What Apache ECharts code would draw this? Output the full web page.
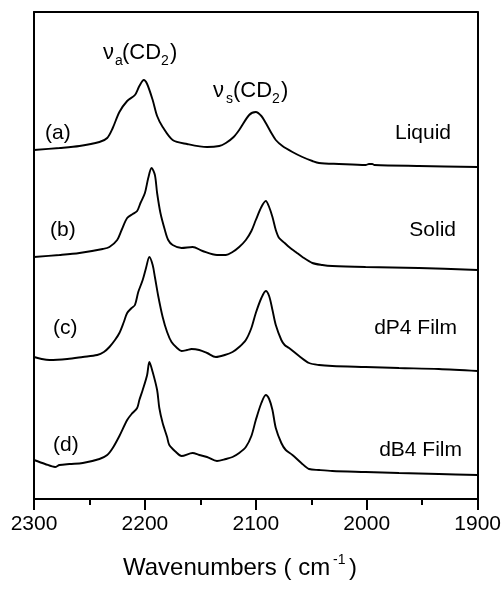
<!DOCTYPE html>
<html>
<head>
<meta charset="utf-8">
<script src="https://cdn.jsdelivr.net/npm/echarts@6/dist/echarts.min.js"></script>
<style>
html,body{margin:0;padding:0;background:#fff;}
#chart{width:504px;height:591px;}
</style>
</head>
<body>
<div id="chart"></div>
<script>
// Axis ticks (wavenumbers, cm-1)
const xTicks = [2300, 2200, 2100, 2000, 1900];

// (a) Liquid
const aWn  = [2300,2277,2259,2241,2234,2229,2223,2216,2209,2205,2201,2198,2193,2189,2184,2175,2162,2144,2133,2127,2120,2115,2106,2100,2095,2091,2086,2082,2076,2067,2058,2049,2043,2025,2001,1998,1995,1993,1953,1900];
const aAbs = [349,351,353,357,361,371,387,398,404,413,419,415,399,383,372,359,355,352,353,356,362,369,384,387,383,376,366,359,353,347,342,338,336,335,334,335,335,334,333,332];

// (b) Solid
const bWn  = [2300,2277,2259,2238,2232,2225,2221,2216,2211,2207,2204,2200,2197,2194,2191,2189,2186,2182,2179,2175,2167,2157,2148,2135,2127,2121,2115,2109,2104,2100,2095,2091,2088,2085,2082,2079,2074,2070,2064,2058,2049,2040,2031,2001,1953,1900];
const bAbs = [242,244,246,250,252,259,269,281,285,288,296,306,321,331,324,306,286,269,259,254,251,252,248,244,244,247,252,259,268,279,292,298,292,282,269,261,256,252,247,242,236,234,233,232,231,229];

// (c) dP4 Film
const cWn  = [2300,2293,2286,2270,2256,2243,2237,2232,2227,2223,2219,2216,2212,2209,2206,2202,2199,2196,2193,2191,2188,2184,2180,2176,2171,2167,2162,2158,2151,2144,2136,2128,2121,2115,2109,2104,2100,2095,2091,2088,2085,2082,2077,2074,2070,2061,2052,2043,2031,2001,1971,1935,1900];
const cAbs = [142,140,139,140,142,144,147,152,159,166,177,186,191,194,207,219,231,242,234,222,203,182,167,157,151,148,149,150,149,146,142,144,147,152,159,171,186,201,208,203,189,174,159,154,151,143,136,134,133,132,131,130,128];

// (d) dB4 Film
const dWn  = [2300,2290,2281,2277,2268,2256,2241,2234,2229,2223,2216,2212,2207,2205,2202,2198,2196,2193,2189,2187,2184,2180,2178,2172,2167,2157,2151,2144,2135,2127,2121,2115,2109,2104,2100,2095,2091,2088,2085,2082,2077,2073,2067,2059,2052,2043,2031,2001,1971,1935,1900];
const dAbs = [39,35,32,34,35,36,40,44,51,63,79,85,91,99,109,124,137,127,109,91,76,62,54,47,43,46,44,42,38,40,42,46,52,63,79,96,104,100,89,71,56,49,44,36,30,29,28,27,26,25,24];

const traceLabels = ['(a)', '(b)', '(c)', '(d)'];
const sampleNames = ['Liquid', 'Solid', 'dP4 Film', 'dB4 Film'];

function pairs(xs, ys){ return xs.map((x,i)=>[x, ys[i]]); }

const FONT = '"Liberation Sans", Arial, sans-serif';
const chart = echarts.init(document.getElementById('chart'), null, {renderer:'canvas'});

function lineSeries(name, xs, ys){
  return {
    name, type:'line', data: pairs(xs, ys), showSymbol:false, symbol:'none',
    smooth:0.3, lineStyle:{color:'#000', width:1.9}, animation:false, silent:true
  };
}

function txt(text, x, y, size, align){
  return {type:'text', x, y, silent:true, style:{text, fill:'#000', font: size+'px '+FONT, align: align||'left', verticalAlign:'middle'}};
}

const option = {
  animation:false,
  backgroundColor:'#fff',
  grid:{left:34, right:25, top:12, bottom:92, containLabel:false},
  xAxis:[{
    type:'value', min:1900, max:2300, interval:100, inverse:true,
    axisLine:{show:true, onZero:false, lineStyle:{color:'#000', width:2}},
    axisTick:{show:true, inside:false, length:11, lineStyle:{color:'#000', width:2}},
    minorTick:{show:true, splitNumber:2, length:6, lineStyle:{color:'#000', width:2}},
    splitLine:{show:false},
    axisLabel:{show:true, color:'#000', fontSize:21, fontFamily:FONT, margin:15,
      formatter:(v)=> xTicks.includes(v) ? String(v) : ''}
  },{
    type:'value', position:'top', min:1900, max:2300, inverse:true,
    axisLine:{show:true, onZero:false, lineStyle:{color:'#000', width:2}},
    axisTick:{show:false}, axisLabel:{show:false}, splitLine:{show:false}
  }],
  yAxis:[{
    type:'value', min:0, max:487, position:'left',
    axisLine:{show:true, onZero:false, lineStyle:{color:'#000', width:2}},
    axisTick:{show:false}, axisLabel:{show:false}, splitLine:{show:false}
  },{
    type:'value', min:0, max:487, position:'right',
    axisLine:{show:true, onZero:false, lineStyle:{color:'#000', width:2}},
    axisTick:{show:false}, axisLabel:{show:false}, splitLine:{show:false}
  }],
  series:[
    lineSeries(sampleNames[0], aWn, aAbs),
    lineSeries(sampleNames[1], bWn, bAbs),
    lineSeries(sampleNames[2], cWn, cAbs),
    lineSeries(sampleNames[3], dWn, dAbs)
  ],
  graphic:[
    // nu_a(CD2)
    txt('ν', 103, 53, 22), txt('a', 115, 61, 14), txt('(CD', 122, 53, 22), txt('2', 161, 61, 14), txt(')', 170, 53, 22),
    // nu_s(CD2)
    txt('ν', 213, 91, 22), txt('s', 226, 99, 14), txt('(CD', 233, 91, 22), txt('2', 272, 99, 14), txt(')', 281, 91, 22),
    // trace labels
    txt(traceLabels[0], 45, 133, 21), txt(traceLabels[1], 50, 230, 21), txt(traceLabels[2], 53, 328, 21), txt(traceLabels[3], 53, 445, 21),
    txt(sampleNames[0], 451, 133, 21, 'right'), txt(sampleNames[1], 456, 230, 21, 'right'),
    txt(sampleNames[2], 457, 328, 21, 'right'), txt(sampleNames[3], 462, 450, 21, 'right'),
    // axis title
    txt('Wavenumbers ( cm', 123, 568, 24), txt('-1', 333, 560, 14), txt(')', 349, 568, 24)
  ]
};
chart.setOption(option);
</script>
</body>
</html>
